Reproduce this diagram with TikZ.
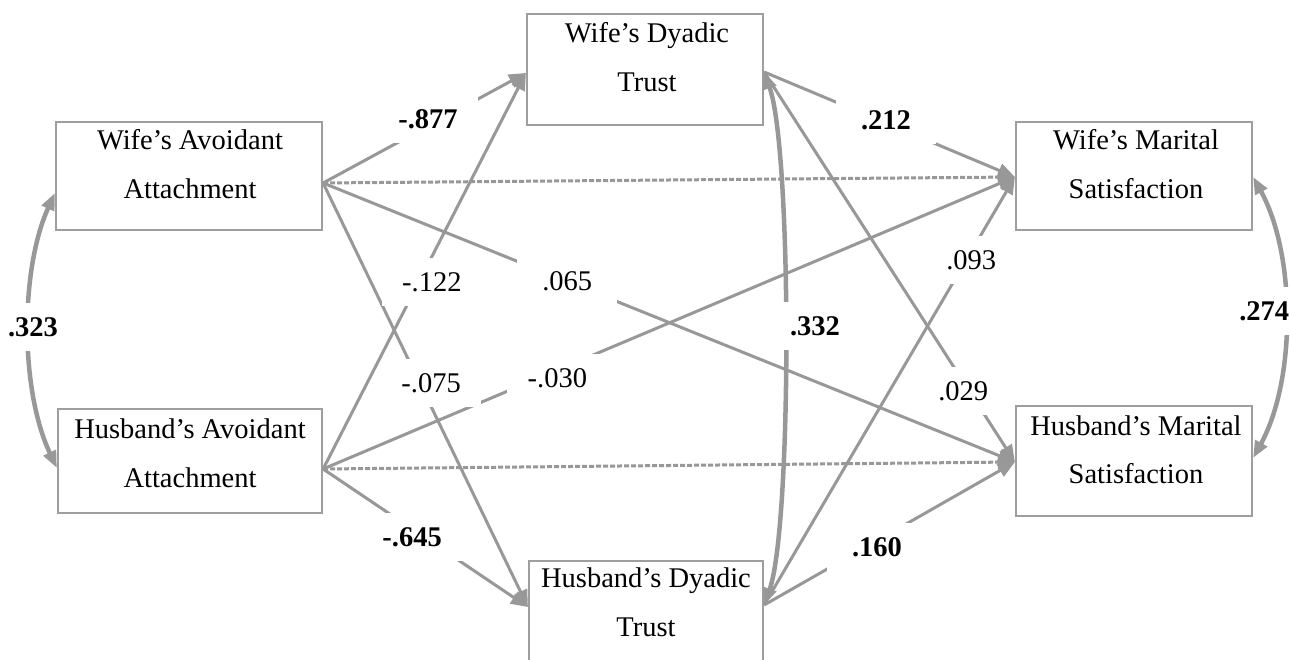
\documentclass[tikz,border=0pt]{standalone}
\usepackage{fontspec}
\setmainfont{Liberation Serif}
\usetikzlibrary{arrows.meta}
\definecolor{lg}{RGB}{152,152,152}
\definecolor{bgray}{RGB}{158,158,158}
\begin{document}
\begin{tikzpicture}[x=1pt,y=-1pt,
  box/.style={draw=bgray, line width=2.2pt, inner sep=0pt},
  txt/.style={anchor=base, font=\fontsize{28.5}{34}\selectfont, inner sep=0pt},
  arr/.style={draw=lg, line width=3pt, -{Triangle[length=17pt,width=14pt]}},
  dsh/.style={arr, dash pattern=on 5pt off 2pt},
  cov/.style={draw=lg, line width=4.5pt, {Triangle[length=17pt,width=13pt]}-{Triangle[length=17pt,width=13pt]}},
  lbl/.style={fill=white, minimum width=100pt, minimum height=48pt, inner sep=0pt, font=\fontsize{28.5}{34}\selectfont}]

\useasboundingbox[fill=white] (0,0) rectangle (1290,660);

% boxes
\node[box, minimum width=266pt, minimum height=108pt] (wa) at (189,176) {};
\node[box, minimum width=264pt, minimum height=104pt] (ha) at (190,461) {};
\node[box, minimum width=236pt, minimum height=111pt] (wdt) at (645,69.5) {};
\node[box, minimum width=234pt, minimum height=119pt] (hdt) at (646,620.5) {};
\node[box, minimum width=236pt, minimum height=108pt] (wms) at (1134,176) {};
\node[box, minimum width=236pt, minimum height=110pt] (hms) at (1134,461) {};

% paths from wife's avoidant attachment
\draw[arr] ([yshift=-7pt]wa.east) -- coordinate[pos=0.517] (c877) ([yshift=-3.5pt]wdt.west);
\draw[dsh] ([yshift=-7pt]wa.east) -- ([yshift=-1pt]wms.west);
\draw[arr] ([yshift=-7pt]wa.east) -- coordinate[pos=0.353] (c065) ([yshift=-1pt]hms.west);
\draw[arr] ([yshift=-7pt]wa.east) -- coordinate[pos=0.4717] (c075) ([yshift=13.5pt]hdt.west);

% paths from husband's avoidant attachment
\draw[arr] ([yshift=-8pt]ha.east) -- coordinate[pos=0.472] (c122) ([yshift=-3.5pt]wdt.west);
\draw[arr] ([yshift=-8pt]ha.east) -- coordinate[pos=0.3386] (c030) ([yshift=-1pt]wms.west);
\draw[dsh] ([yshift=-8pt]ha.east) -- ([yshift=-1pt]hms.west);
\draw[arr] ([yshift=-8pt]ha.east) -- coordinate[pos=0.4348] (c645) ([yshift=13.5pt]hdt.west);

% paths from dyadic trust
\draw[arr] ([yshift=-2.5pt]wdt.east) -- coordinate[pos=0.486] (c212) ([yshift=-1pt]wms.west);
\draw[arr] ([yshift=-2.5pt]wdt.east) -- coordinate[pos=0.818] (c029) ([yshift=-1pt]hms.west);
\draw[arr] ([yshift=15.5pt]hdt.east) -- coordinate[pos=0.806] (c093) ([yshift=-1pt]wms.west);
\draw[arr] ([yshift=15.5pt]hdt.east) -- coordinate[pos=0.45] (c160) ([yshift=-1pt]hms.west);

% covariances
\draw[cov] ([yshift=-7pt]ha.west) .. controls (20,390) and (20,270) .. coordinate[pos=0.5] (c323) ([yshift=-17pt]wa.west);
\draw[cov] ([yshift=15.5pt]hdt.east) .. controls (792,527) and (792,150) .. coordinate[pos=0.5] (c332) ([yshift=-2.5pt]wdt.east);
\draw[cov] ([yshift=-1pt]wms.east) .. controls (1296,255) and (1296,380) .. coordinate[pos=0.5] (c274) ([yshift=3pt]hms.east);

% coefficient labels
\node[lbl, yshift=7pt] (l877) at (c877) {\textbf{-.877}};
\node[lbl] (l065) at (c065) {.065};
\node[lbl, xshift=11.4pt] (l075) at (c075) {-.075};
\node[lbl, xshift=13pt] (l122) at (c122) {-.122};
\node[lbl, yshift=-8pt] (l030) at (c030) {-.030};
\node[lbl, yshift=-8pt] (l645) at (c645) {\textbf{-.645}};
\node[lbl, yshift=3pt] (l212) at (c212) {\textbf{.212}};
\node[lbl, xshift=-6pt] (l029) at (c029) {.029};
\node[lbl, xshift=5pt] (l093) at (c093) {.093};
\node[lbl, yshift=-6.5pt] (l160) at (c160) {\textbf{.160}};
\node[lbl, xshift=4pt, yshift=3pt] (l323) at (c323) {\textbf{.323}};
\node[lbl, xshift=30pt, yshift=12.5pt] (l332) at (c332) {\textbf{.332}};
\node[lbl, xshift=-21pt, yshift=6.5pt] (l274) at (c274) {\textbf{.274}};

% box texts
\node[txt] (wa1) at (190,150) {Wife’s Avoidant};
\node[txt] (wa2) at (190,199) {Attachment};
\node[txt] (ha1) at (190,438) {Husband’s Avoidant};
\node[txt] (ha2) at (190,487) {Attachment};
\node[txt] (wdt1) at (647,43) {Wife’s Dyadic};
\node[txt] (wdt2) at (647,92) {Trust};
\node[txt] (hdt1) at (646,587) {Husband’s Dyadic};
\node[txt] (hdt2) at (646,636) {Trust};
\node[txt] (wms1) at (1136,150) {Wife’s Marital};
\node[txt] (wms2) at (1136,199) {Satisfaction};
\node[txt] (hms1) at (1136,435) {Husband’s Marital};
\node[txt] (hms2) at (1136,483) {Satisfaction};
\end{tikzpicture}
\end{document}
